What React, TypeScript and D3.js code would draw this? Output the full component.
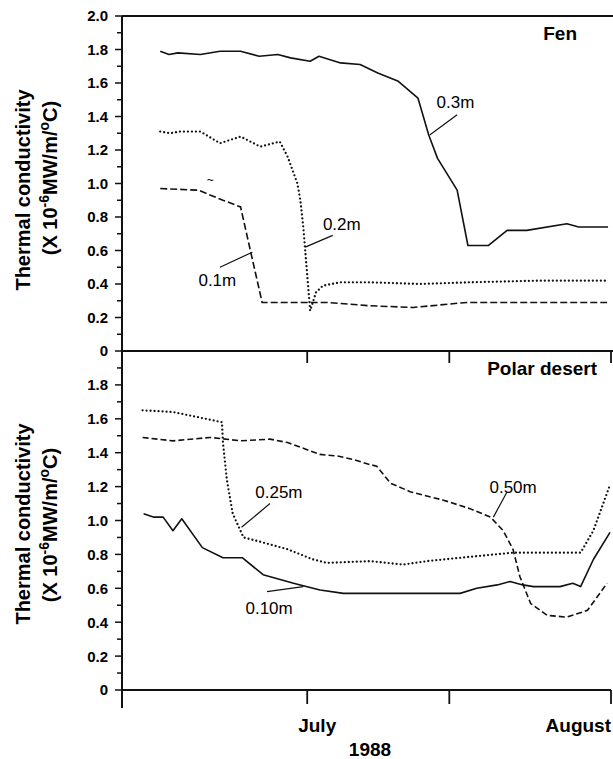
import React from 'react';
import * as d3 from 'd3';

// ---- Data (days relative to July 1, 1988; thermal conductivity x10^-6 MW/m/°C) ----
// Fen, 0.3 m (solid)
const fen03Days = [-15.0, -14.1, -13.2, -10.9, -8.9, -6.8, -4.9, -3.0, -1.7, 0.3, 1.2, 3.4, 5.4, 7.2, 9.3, 11.3, 12.4, 13.3, 15.3, 16.4, 18.5, 20.4, 22.4, 26.5, 27.7, 30.7];
const fen03Vals = [1.79, 1.77, 1.78, 1.77, 1.79, 1.79, 1.76, 1.77, 1.75, 1.73, 1.76, 1.72, 1.71, 1.66, 1.61, 1.51, 1.29, 1.15, 0.96, 0.63, 0.63, 0.72, 0.72, 0.76, 0.74, 0.74];
// Fen, 0.2 m (dotted)
const fen02Days = [-15.0, -14.0, -13.0, -10.9, -8.9, -6.8, -4.8, -2.8, -2.0, -1.0, -0.7, -0.4, 0.3, 0.9, 1.6, 3.4, 6.4, 11.5, 16.6, 23.8, 30.7];
const fen02Vals = [1.31, 1.30, 1.31, 1.31, 1.24, 1.28, 1.22, 1.25, 1.16, 1.00, 0.90, 0.74, 0.24, 0.35, 0.39, 0.41, 0.41, 0.40, 0.41, 0.42, 0.42];
// Fen, 0.1 m (dashed)
const fen01Days = [-15.0, -11.1, -8.6, -6.8, -5.8, -4.6, 0.0, 2.0, 6.4, 10.8, 16.3, 18.7, 25.5, 30.6];
const fen01Vals = [0.97, 0.96, 0.90, 0.86, 0.60, 0.29, 0.29, 0.29, 0.27, 0.26, 0.29, 0.29, 0.29, 0.29];
// Polar desert, 0.25 m (dotted)
const pd025Days = [-16.8, -13.7, -11.2, -8.7, -8.6, -8.2, -7.6, -6.5, -4.5, -2.0, 0.6, 2.0, 6.4, 9.8, 12.2, 15.6, 21.0, 24.1, 27.9, 29.2, 30.9];
const pd025Vals = [1.65, 1.64, 1.61, 1.58, 1.46, 1.24, 1.04, 0.90, 0.87, 0.83, 0.77, 0.75, 0.76, 0.74, 0.76, 0.78, 0.81, 0.81, 0.81, 0.94, 1.21];
// Polar desert, 0.50 m (dashed)
const pd050Days = [-16.8, -13.7, -9.9, -6.8, -3.8, -2.0, 1.3, 3.1, 4.7, 6.4, 7.1, 8.5, 10.5, 13.9, 16.6, 18.7, 20.0, 21.0, 21.7, 22.8, 24.5, 26.5, 28.6, 30.6];
const pd050Vals = [1.49, 1.47, 1.49, 1.47, 1.48, 1.46, 1.39, 1.38, 1.36, 1.33, 1.32, 1.22, 1.17, 1.12, 1.07, 1.02, 0.94, 0.83, 0.67, 0.51, 0.44, 0.43, 0.47, 0.63];
// Polar desert, 0.10 m (solid)
const pd010Days = [-16.7, -15.7, -14.7, -13.7, -12.8, -10.7, -8.6, -6.6, -4.5, -1.4, 1.3, 3.7, 6.4, 15.6, 17.3, 19.4, 20.7, 22.0, 23.1, 25.8, 27.1, 27.9, 29.2, 30.9];
const pd010Vals = [1.04, 1.02, 1.02, 0.94, 1.01, 0.84, 0.78, 0.78, 0.68, 0.63, 0.59, 0.57, 0.57, 0.57, 0.60, 0.62, 0.64, 0.62, 0.61, 0.61, 0.63, 0.61, 0.77, 0.93];

// Axis ticks
const xTickDays = [0, 14.5, 31];
const xTickLabels = ['July', '', 'August'];
const yTopTicks = d3.range(0, 21).map((i) => i / 10);
const yBotTicks = d3.range(0, 20).map((i) => i / 10);

const FONT = '"Liberation Sans", Arial, Helvetica, sans-serif';

function zip(days: number[], vals: number[]): [number, number][] {
  return days.map((d, i) => [d, vals[i]]);
}

export default function App() {
  const x = d3.scaleLinear().domain([-18.9, 31]).range([122, 611]);
  const yTop = d3.scaleLinear().domain([0, 2]).range([351, 16]);
  const yBot = d3.scaleLinear().domain([0, 2]).range([690, 351]);
  const left = x.range()[0];

  const lineTop = d3.line<[number, number]>().x((d) => x(d[0])).y((d) => yTop(d[1]));
  const lineBot = d3.line<[number, number]>().x((d) => x(d[0])).y((d) => yBot(d[1]));

  const solid = { fill: 'none', stroke: '#111', strokeWidth: 1.6, strokeLinejoin: 'round' as const };
  const dotted = { fill: 'none', stroke: '#111', strokeWidth: 2.3, strokeDasharray: '0 4', strokeLinecap: 'round' as const };
  const dashed = { fill: 'none', stroke: '#111', strokeWidth: 1.6, strokeDasharray: '7 3' };

  const yTicks = (scale: d3.ScaleLinear<number, number>, ticks: number[], labelMax: number) =>
    ticks.map((t, i) => {
      const k = Math.round(t * 10);
      const major = k % 2 === 0;
      const yy = scale(t);
      return (
        <g key={i}>
          <line x1={left - (major ? 7 : 5)} x2={left} y1={yy} y2={yy} stroke="#111" strokeWidth={1.5} />
          {major && t <= labelMax + 1e-9 ? (
            <text x={108} y={yy} dy="0.36em" textAnchor="end" fontSize={15} fontWeight="bold" fontFamily={FONT}>
              {k === 0 ? '0' : t.toFixed(1)}
            </text>
          ) : null}
        </g>
      );
    });

  const leader = (
    sy: d3.ScaleLinear<number, number>,
    a: [number, number],
    b: [number, number],
    key: string
  ) => <line key={key} x1={x(a[0])} y1={sy(a[1])} x2={x(b[0])} y2={sy(b[1])} stroke="#111" strokeWidth={1.2} />;

  const yTitle = (cx1: number, cx2: number, cy1: number, cy2: number) => (
    <g fontFamily={FONT} fontWeight="bold" fontSize={20}>
      <text transform={`translate(${cx1},${cy1}) rotate(-90)`} textAnchor="middle">
        Thermal conductivity
      </text>
      <text transform={`translate(${cx2},${cy2}) rotate(-90)`} textAnchor="middle">
        (X 10
        <tspan fontSize={14} dy={-8}>-6</tspan>
        <tspan dy={8}>MW/m/</tspan>
        <tspan fontSize={14} dy={-8}>o</tspan>
        <tspan dy={8}>C)</tspan>
      </text>
    </g>
  );

  return (
    <svg
      width={613}
      height={759}
      style={{ position: 'absolute', left: 0, top: 0, background: '#fff' }}
      fontFamily={FONT}
    >
      <rect x={0} y={0} width={613} height={759} fill="#fff" />

      {/* axes frame */}
      <line x1={left} x2={613} y1={yTop(2)} y2={yTop(2)} stroke="#111" strokeWidth={2} />
      <line x1={left} x2={left} y1={yTop(2)} y2={708} stroke="#111" strokeWidth={2} />
      <line x1={left} x2={613} y1={yTop(0)} y2={yTop(0)} stroke="#111" strokeWidth={2} />
      <line x1={left} x2={611} y1={yBot(0)} y2={yBot(0)} stroke="#111" strokeWidth={2} />

      {/* x ticks */}
      {xTickDays.map((d, i) => (
        <g key={`xt${i}`}>
          <line x1={x(d)} x2={x(d)} y1={yTop(0)} y2={yTop(0) + 12} stroke="#111" strokeWidth={1.8} />
          <line x1={x(d)} x2={x(d)} y1={yBot(0)} y2={yBot(0) + 14} stroke="#111" strokeWidth={1.8} />
        </g>
      ))}
      <text x={x(xTickDays[0]) + 10} y={732} textAnchor="middle" fontSize={19} fontWeight="bold">
        {xTickLabels[0]}
      </text>
      <text x={x(xTickDays[2])} y={732} textAnchor="end" fontSize={19} fontWeight="bold">
        {xTickLabels[2]}
      </text>
      <text x={370} y={756} textAnchor="middle" fontSize={19} fontWeight="bold">
        1988
      </text>

      {/* y ticks */}
      {yTicks(yTop, yTopTicks, 2)}
      {yTicks(yBot, yBotTicks, 1.8)}

      {/* y titles */}
      {yTitle(30, 57, 190, 178)}
      {yTitle(30, 57, 524, 525)}

      {/* panel titles */}
      <text x={577} y={40} textAnchor="end" fontSize={19} fontWeight="bold">Fen</text>
      <text x={597} y={375} textAnchor="end" fontSize={19} fontWeight="bold">Polar desert</text>

      {/* Fen series */}
      <path d={lineTop(zip(fen03Days, fen03Vals)) || ''} {...solid} />
      <path d={lineTop(zip(fen02Days, fen02Vals)) || ''} {...dotted} />
      <path d={lineTop(zip(fen01Days, fen01Vals)) || ''} {...dashed} />

      {/* Polar desert series */}
      <path d={lineBot(zip(pd025Days, pd025Vals)) || ''} {...dotted} />
      <path d={lineBot(zip(pd050Days, pd050Vals)) || ''} {...dashed} strokeDasharray="6 3" />
      <path d={lineBot(zip(pd010Days, pd010Vals)) || ''} {...solid} />

      {/* series labels with leaders */}
      <g fontSize={17} fontFamily={FONT}>
        <text x={x(13.2)} y={yTop(1.45)}>0.3m</text>
        <text x={x(1.6)} y={yTop(0.72)}>0.2m</text>
        <text x={x(-11.1)} y={yTop(0.39)}>0.1m</text>
        <text x={x(-5.3)} y={yBot(1.13)}>0.25m</text>
        <text x={x(-6.3)} y={yBot(0.45)}>0.10m</text>
        <text x={x(18.6)} y={yBot(1.16)}>0.50m</text>
      </g>
      <text x={x(-9.9)} y={yTop(1.0)} fontSize={12} textAnchor="middle">~</text>
      {leader(yTop, [15.3, 1.41], [12.5, 1.29], 'l1')}
      {leader(yTop, [2.6, 0.69], [-0.2, 0.62], 'l2')}
      {leader(yTop, [-8.9, 0.5], [-5.6, 0.59], 'l3')}
      {leader(yBot, [-3.8, 1.1], [-6.7, 0.96], 'l4')}
      {leader(yBot, [-4.1, 0.58], [-0.4, 0.61], 'l5')}
      {leader(yBot, [20.4, 1.17], [19.0, 1.02], 'l6')}
    </svg>
  );
}
